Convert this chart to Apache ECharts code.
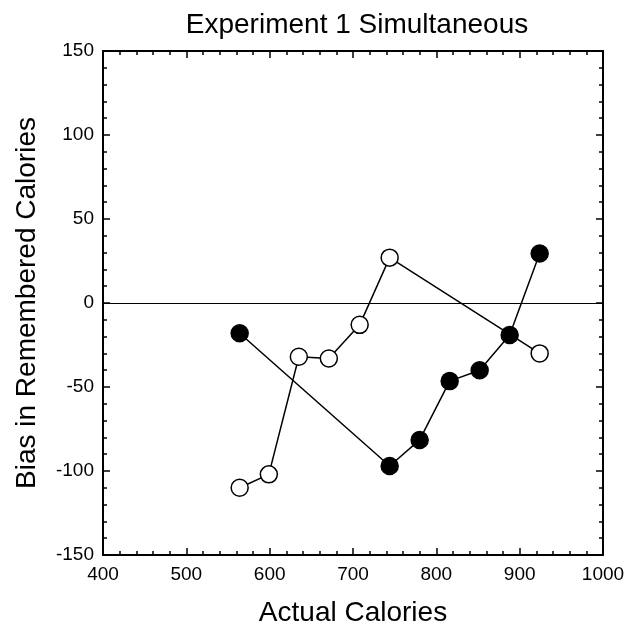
<!DOCTYPE html>
<html>
<head>
<meta charset="utf-8">
<script src="https://cdn.jsdelivr.net/npm/echarts@6/dist/echarts.min.js"></script>
<style>
  html, body { margin: 0; padding: 0; background: #fff; }
  #main { width: 635px; height: 629px; }
</style>
</head>
<body>
<div id="main"></div>
<script>
// open circles
const openX = [564, 599, 635, 671, 708, 744, 924]
const openY = [-110, -102, -32, -33, -13, 27, -30]
// filled circles
const filledX = [564, 744, 780, 816, 852, 888, 924]
const filledY = [-18, -97, -81.5, -46.5, -40, -19, 29.5]

const xTicks = { min: 400, max: 1000, interval: 100 }
const yTicks = { min: -150, max: 150, interval: 50 }

const font = 'Liberation Sans, Arial, sans-serif'

const pairs = (xs, ys) => xs.map((x, i) => [x, ys[i]])

const axisCommon = {
  axisLine: { show: true, onZero: false, lineStyle: { color: '#000', width: 2 } },
  axisTick: { show: true, inside: true, length: 7, lineStyle: { color: '#000', width: 1.5 } },
  minorTick: { show: true, splitNumber: 5, length: 4, lineStyle: { color: '#000', width: 1.5 } },
  splitLine: { show: false }
}

var myChart = echarts.init(document.getElementById('main'))
var option = {
  animation: false,
  title: {
    text: 'Experiment 1 Simultaneous',
    left: 352,
    textAlign: 'center',
    top: 6,
    textStyle: { fontFamily: font, fontSize: 28, fontWeight: 'normal', color: '#000' }
  },
  grid: { left: 103, right: 32, top: 51, bottom: 74, outerBoundsMode: 'none', containLabel: false },
  xAxis: [
    {
      type: 'value', position: 'bottom',
      min: xTicks.min, max: xTicks.max, interval: xTicks.interval,
      name: 'Actual Calories', nameLocation: 'middle', nameGap: 44,
      nameTextStyle: { fontFamily: font, fontSize: 28, color: '#000' },
      axisLabel: { fontFamily: font, fontSize: 19, color: '#000', margin: 10, formatter: v => String(v) },
      ...axisCommon
    },
    {
      type: 'value', position: 'top',
      min: xTicks.min, max: xTicks.max, interval: xTicks.interval,
      axisLabel: { show: false },
      ...axisCommon
    }
  ],
  yAxis: [
    {
      type: 'value', position: 'left',
      min: yTicks.min, max: yTicks.max, interval: yTicks.interval,
      name: 'Bias in Remembered Calories', nameLocation: 'middle', nameGap: 62,
      nameTextStyle: { fontFamily: font, fontSize: 28, color: '#000' },
      axisLabel: { fontFamily: font, fontSize: 19, color: '#000', margin: 9, formatter: v => String(v) },
      ...axisCommon
    },
    {
      type: 'value', position: 'right',
      min: yTicks.min, max: yTicks.max, interval: yTicks.interval,
      axisLabel: { show: false },
      ...axisCommon
    }
  ],
  series: [
    {
      type: 'line',
      data: pairs(openX, openY),
      symbol: 'circle',
      symbolSize: 17,
      lineStyle: { color: '#000', width: 1.5 },
      itemStyle: { color: '#fff', borderColor: '#000', borderWidth: 1.5 },
      markLine: {
        silent: true,
        symbol: 'none',
        label: { show: false },
        lineStyle: { color: '#000', width: 1, type: 'solid' },
        data: [{ yAxis: 0 }]
      },
      z: 2
    },
    {
      type: 'line',
      data: pairs(filledX, filledY),
      symbol: 'circle',
      symbolSize: 17,
      lineStyle: { color: '#000', width: 1.5 },
      itemStyle: { color: '#000', borderColor: '#000', borderWidth: 1.5 },
      z: 3
    }
  ]
}
myChart.setOption(option)
</script>
</body>
</html>
